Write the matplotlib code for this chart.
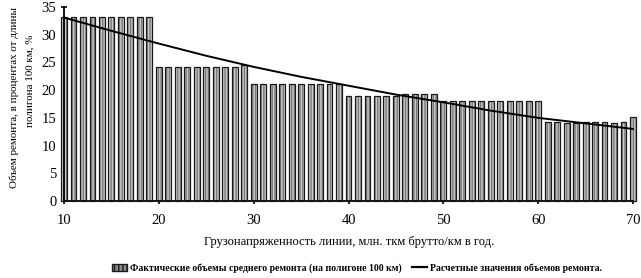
import matplotlib
matplotlib.use("Agg")
import matplotlib.pyplot as plt
from matplotlib.patches import Patch
from matplotlib.lines import Line2D

# ---- data ----
load_x = list(range(10, 71))
actual_volume = (
    [33.2] * 10 +                                   # 10..19
    [24.2] * 9 + [24.5] +                           # 20..29
    [21.1] * 10 +                                   # 30..39
    [19.0] * 6 + [19.3] * 4 +                       # 40..49
    [18.1] * 11 +                                   # 50..60
    [14.2, 14.2, 14.0, 14.0, 14.2, 14.2, 14.2, 14.0, 14.2] +  # 61..69
    [15.2]                                          # 70
)
calc_x = [10, 15, 20, 25, 30, 35, 40, 45, 50, 55, 60, 65, 70]
calc_volume = [33.1, 30.7, 28.4, 26.2, 24.2, 22.4, 20.8, 19.2, 17.8, 16.3, 15.0, 14.0, 13.0]

xticks = [10, 20, 30, 40, 50, 60, 70]
yticks = [0, 5, 10, 15, 20, 25, 30, 35]

xlabel = "Грузонапряженность линии, млн. ткм брутто/км в год."
ylabel1 = "Объем ремонта, в процентах от длины"
ylabel2 = "полигона 100 км, %"
leg_bar = "Фактические объемы среднего ремонта (на полигоне 100 км)"
leg_line = "Расчетные значения объемов ремонта."

plt.rcParams['font.family'] = ['Liberation Serif', 'DejaVu Serif']

fig = plt.figure(figsize=(6.41, 2.78), dpi=100)
ax = fig.add_axes([64/641, 1 - 201/278, (633-64)/641, (201-7)/278])

bar_w = 0.62
ax.bar(load_x, actual_volume, width=bar_w, color='#7a7a7a', hatch='||||||',
       edgecolor='#c8c8c8', linewidth=0, clip_on=False, zorder=2)
ax.bar(load_x, actual_volume, width=bar_w, fill=False, edgecolor='#1a1a1a',
       linewidth=0.9, clip_on=False, zorder=3)
ax.plot(calc_x, calc_volume, color='black', linewidth=1.4, zorder=4, clip_on=False)

ax.set_xlim(10, 70)
ax.set_ylim(0, 35)
ax.set_xticks(xticks)
ax.set_yticks(yticks)
ax.tick_params(axis='both', labelsize=10.5, width=1.2, length=4, direction='inout')
ax.tick_params(axis='x', pad=7)
ax.spines['top'].set_visible(False)
ax.spines['right'].set_visible(False)
ax.spines['left'].set_linewidth(1.3)
ax.spines['bottom'].set_linewidth(1.3)

fig.text(349/641, 1 - 242/278, xlabel, ha='center', va='center', fontsize=9)
fig.text(14/641, 1 - 97/278, ylabel1, ha='center', va='center', rotation=90, fontsize=7.9)
fig.text(30/641, 1 - 81/278, ylabel2, ha='center', va='center', rotation=90, fontsize=7.9)

handles = [Patch(facecolor='#8a8a8a', edgecolor='#1a1a1a', hatch='||||'),
           Line2D([0], [0], color='black', linewidth=1.6)]
fig.legend(handles, [leg_bar, leg_line], loc='center', bbox_to_anchor=(357/641, 1 - 268/278),
           ncol=2, frameon=False, prop={'size': 7, 'weight': 'bold'},
           handlelength=1.6, handletextpad=0.3, columnspacing=1.0, borderaxespad=0)

fig.savefig("out.png", dpi=100)
